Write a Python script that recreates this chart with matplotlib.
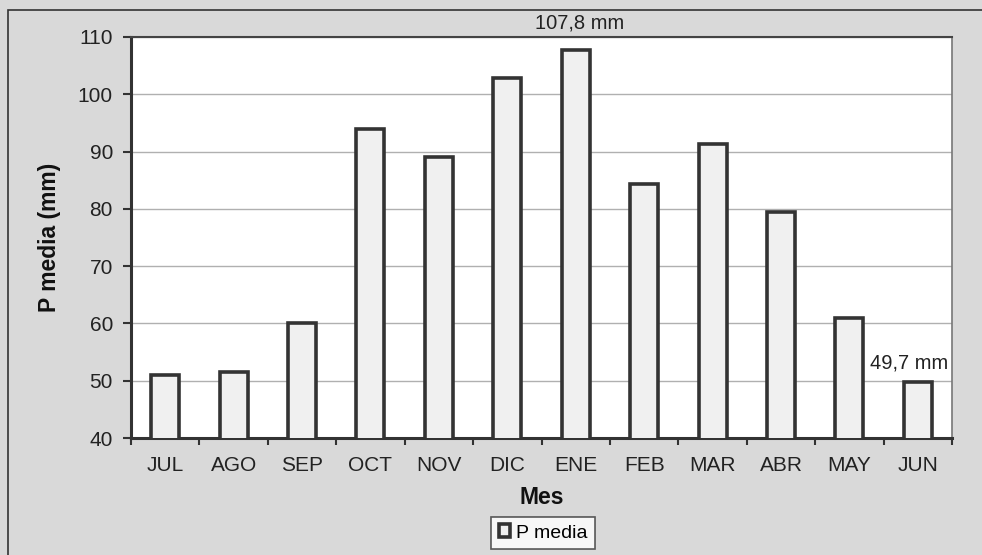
import matplotlib
matplotlib.use("Agg")
import matplotlib.pyplot as plt
from matplotlib.patches import Rectangle
import numpy as np

meses = ["JUL", "AGO", "SEP", "OCT", "NOV", "DIC", "ENE", "FEB", "MAR", "ABR", "MAY", "JUN"]
p_media = [51.0, 51.6, 60.0, 94.0, 89.0, 102.8, 107.8, 84.3, 91.4, 79.5, 61.0, 49.7]
y_ticks = [40, 50, 60, 70, 80, 90, 100, 110]

plt.rcParams['font.family'] = ['Liberation Sans', 'DejaVu Sans']

fig = plt.figure(figsize=(9.82, 5.55), dpi=100)
fig.patch.set_facecolor('#d9d9d9')
fig.patches.append(Rectangle((8/982, -0.01), 1.0, 1 - 10/555 + 0.01, transform=fig.transFigure,
                             fill=False, edgecolor='#333333', linewidth=1.2))

ax = fig.add_axes([131/982, 1 - 438/555, (952-131)/982, (438-37)/555])
ax.set_facecolor('white')
x = np.arange(len(meses))
ax.bar(x, p_media, width=0.41, bottom=0, color='#f0f0f0', edgecolor='#333333',
       linewidth=2.6, zorder=3, label='P media')
ax.set_ylim(40, 110)
ax.set_xlim(-0.5, len(meses) - 0.5)
ax.set_yticks(y_ticks)
ax.yaxis.grid(True, color='#b0b0b0', linewidth=1.0, zorder=0)
ax.set_xticks(np.arange(len(meses) + 1) - 0.5)
ax.set_xticklabels([])
ax.set_xticks(x, minor=True)
ax.set_xticklabels(meses, minor=True)
ax.tick_params(axis='x', which='minor', length=0, labelsize=15, pad=13, labelcolor='#222222')
ax.tick_params(axis='x', which='major', length=5, width=1.5, color='#333333', direction='out')
ax.tick_params(axis='y', length=6, width=1.5, color='#333333', labelsize=15, pad=7,
               labelcolor='#222222')
for s in ['left', 'bottom']:
    ax.spines[s].set_linewidth(2.2)
    ax.spines[s].set_color('#333333')
ax.spines['top'].set_linewidth(1.5)
ax.spines['top'].set_color('#444444')
ax.spines['right'].set_linewidth(1.2)
ax.spines['right'].set_color('#777777')

ax.set_ylabel('P media (mm)', fontsize=16.5, fontweight='bold', labelpad=12, color='#111111')
ax.set_xlabel('Mes', fontsize=16.5, fontweight='bold', labelpad=8, color='#111111')

i_max = int(np.argmax(p_media))
i_min = int(np.argmin(p_media))
ax.annotate(f"{p_media[i_max]:.1f} mm".replace('.', ','), (x[i_max], p_media[i_max]),
            xytext=(3, 12), textcoords='offset points', ha='center', va='bottom',
            fontsize=14.5, annotation_clip=False, color='#222222')
ax.annotate(f"{p_media[i_min]:.1f} mm".replace('.', ','), (x[i_min], p_media[i_min]),
            xytext=(-6, 7), textcoords='offset points', ha='center', va='bottom',
            fontsize=14.5, annotation_clip=False, color='#222222')

leg = fig.legend(loc='center', bbox_to_anchor=(543/982, 1 - 533/555), fontsize=14,
                 frameon=True, fancybox=False, edgecolor='#333333', handlelength=0.6,
                 handleheight=0.6, handletextpad=0.3, borderpad=0.4, borderaxespad=0)
leg.get_frame().set_linewidth(1.2)

fig.savefig('out.png', dpi=100, facecolor=fig.get_facecolor())
